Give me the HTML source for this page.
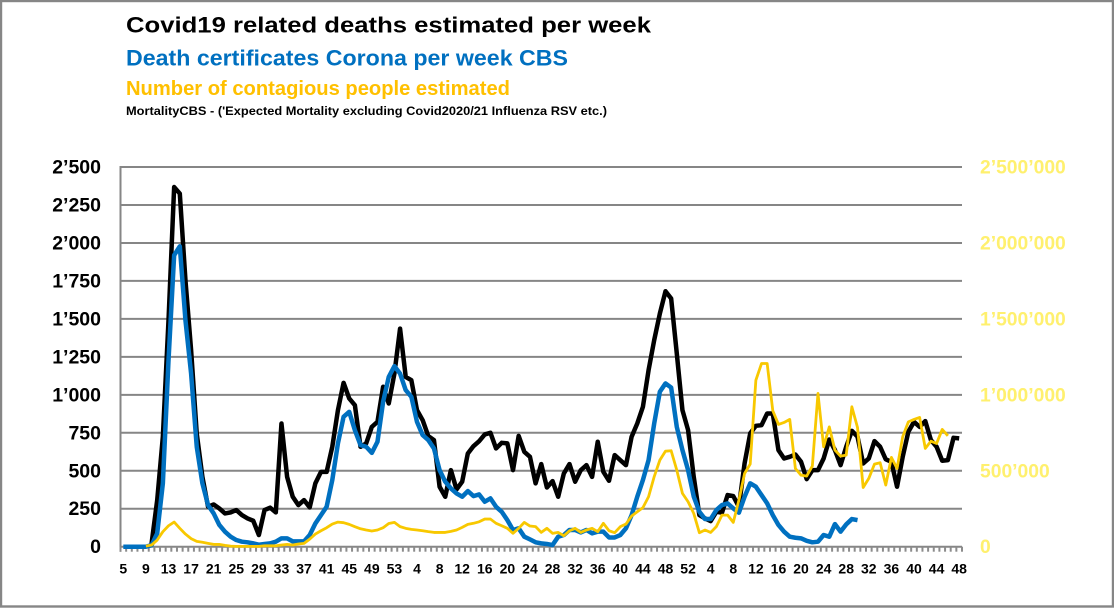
<!DOCTYPE html>
<html lang="en">
<head>
<meta charset="utf-8">
<title>Covid19 related deaths estimated per week</title>
<style>
html,body{margin:0;padding:0;background:#fff;}
#frame{position:relative;width:1114px;height:608px;overflow:hidden;}
svg{display:block;font-family:"Liberation Sans",sans-serif;font-weight:bold;}
</style>
</head>
<body>
<div id="frame">
<svg id="chart" width="1114" height="608" viewBox="0 0 1114 608" xmlns="http://www.w3.org/2000/svg">
  <rect x="1" y="1" width="1112" height="605.5" fill="#fff" stroke="#868686" stroke-width="2.4"/>
  <text x="126" y="32.5" font-size="22" fill="#000" textLength="525" lengthAdjust="spacingAndGlyphs">Covid19 related deaths estimated per week</text>
  <text x="126" y="65.5" font-size="22" fill="#0070C0" textLength="442" lengthAdjust="spacingAndGlyphs">Death certificates Corona per week CBS</text>
  <text x="126" y="95" font-size="20" fill="#FFC000" textLength="384" lengthAdjust="spacingAndGlyphs">Number of contagious people estimated</text>
  <text x="126" y="115" font-size="12" fill="#000" textLength="481" lengthAdjust="spacingAndGlyphs">MortalityCBS - ('Expected Mortality excluding Covid2020/21 Influenza RSV etc.)</text>
  <g id="grid"></g>
  <g id="ticks"></g>
  <g id="labels"></g>
  <g id="series"></g>
</svg>
</div>
<script>
const categories = [5,6,7,8,9,10,11,12,13,14,15,16,17,18,19,20,21,22,23,24,25,26,27,28,29,30,31,32,33,34,35,36,37,38,39,40,41,42,43,44,45,46,47,48,49,50,51,52,53,
1,2,3,4,5,6,7,8,9,10,11,12,13,14,15,16,17,18,19,20,21,22,23,24,25,26,27,28,29,30,31,32,33,34,35,36,37,38,39,40,41,42,43,44,45,46,47,48,49,50,51,52,
1,2,3,4,5,6,7,8,9,10,11,12,13,14,15,16,17,18,19,20,21,22,23,24,25,26,27,28,29,30,31,32,33,34,35,36,37,38,39,40,41,42,43,44,45,46,47,48];

const mortalityValues = [null,null,null,null,null,
20,307,724,1490,2368,2325,1754,1294,745,460,263,278,252,219,226,241,208,186,171,77,241,257,226,811,460,329,274,307,259,417,493,493,658,899,1079,976,932,658,680,789,822,1053,943,1140,1436,
1118,1096,899,833,728,702,395,329,504,377,428,614,662,695,739,750,647,684,680,504,730,625,592,417,544,390,432,329,482,544,428,504,537,460,691,493,434,603,570,537,724,811,921,1162,1360,1535,1682,1634,1272,899,
768,460,208,186,169,230,224,340,333,263,548,746,796,800,877,877,636,581,592,607,559,445,504,504,581,706,636,537,658,763,724,548,581,695,658,575,559,395,592,757,822,789,827,702,658,566,570,717,713];

const certificateValues = [0,0,0,0,0,
10,88,417,1228,1919,1978,1491,1140,658,417,274,219,143,99,66,44,33,29,22,13,18,22,33,55,55,35,35,35,77,153,208,263,439,680,855,888,767,669,658,618,691,954,1118,1189,1140,
1031,987,822,735,702,647,504,428,384,351,329,366,333,344,296,318,263,230,175,110,121,66,48,29,22,18,11,66,77,110,110,94,110,88,99,99,61,61,77,121,208,329,439,570,811,1020,1075,1048,789,636,
504,330,230,182,182,241,274,285,252,224,329,417,395,340,285,208,143,99,66,59,55,39,29,33,77,66,149,99,147,182,175];

const contagiousValues = [null,null,null,null,
4000,11000,44000,99000,138000,162000,121000,83000,53000,35000,29000,22000,15000,15000,9000,4000,2000,2000,2000,2000,2000,6000,6000,6000,11000,15000,11000,18000,22000,50000,83000,105000,125000,149000,162000,158000,147000,132000,118000,110000,103000,110000,125000,153000,160000,132000,
121000,114000,110000,105000,99000,94000,94000,94000,101000,110000,127000,147000,154000,164000,182000,182000,154000,138000,121000,88000,121000,160000,136000,132000,94000,121000,88000,94000,72000,105000,121000,94000,110000,121000,99000,154000,105000,92000,132000,149000,202000,230000,257000,329000,461000,570000,629000,632000,504000,351000,
296000,219000,92000,110000,94000,132000,208000,208000,160000,307000,482000,544000,1096000,1206000,1206000,895000,805000,818000,838000,515000,471000,465000,531000,1009000,658000,789000,636000,596000,603000,921000,785000,390000,450000,544000,553000,406000,588000,515000,724000,822000,838000,851000,647000,695000,680000,772000,730000];

const leftTickValues = [0,250,500,750,1000,1250,1500,1750,2000,2250,2500];
const leftTickLabels = ["0","250","500","750","1’000","1’250","1’500","1’750","2’000","2’250","2’500"];
const rightTickValues = [0,500000,1000000,1500000,2000000,2500000];
const rightTickLabels = ["0","500’000","1’000’000","1’500’000","2’000’000","2’500’000"];
const labelEvery = 4;

const plotLeft = 120.5, plotRight = 962, plotTop = 167, plotBottom = 546.7;
const leftMax = 2500, rightMax = 2500000;
const NS = "http://www.w3.org/2000/svg";

function xScale(i){ return plotLeft + (plotRight - plotLeft) * (i + 0.5) / categories.length; }
function xEdge(i){ return plotLeft + (plotRight - plotLeft) * i / categories.length; }
function yLeft(v){ return plotBottom - (plotBottom - plotTop) * v / leftMax; }
function yRight(v){ return plotBottom - (plotBottom - plotTop) * v / rightMax; }
function make(tag, attrs){
  const el = document.createElementNS(NS, tag);
  for (const k in attrs) el.setAttribute(k, attrs[k]);
  return el;
}

const grid = document.getElementById('grid');
leftTickValues.forEach(function(v){
  const line = make('line', {x1: plotLeft, x2: plotRight, y1: yLeft(v), y2: yLeft(v), stroke: '#868686', 'stroke-width': 2});
  
  
  grid.appendChild(line);
});
const yAxis = make('line', {x1: plotLeft, x2: plotLeft, y1: plotTop - 1, y2: plotBottom + 5, stroke: '#868686', 'stroke-width': 2});


grid.appendChild(yAxis);

const ticks = document.getElementById('ticks');
for (let i = 0; i <= categories.length; i++) {
  const t = make('line', {x1: xEdge(i), x2: xEdge(i), y1: plotBottom, y2: plotBottom + 5, stroke: '#8c8c8c', 'stroke-width': 2});
  
  
  ticks.appendChild(t);
}

const labels = document.getElementById('labels');
leftTickValues.forEach(function(v, i){
  const t = make('text', {x: 101, y: yLeft(v) + 6.5, 'text-anchor': 'end', 'font-size': 19.5, fill: '#000'});
  t.textContent = leftTickLabels[i];
  
  
  labels.appendChild(t);
});
rightTickValues.forEach(function(v, i){
  const t = make('text', {x: 980, y: yRight(v) + 6.5, 'font-size': 19.3, fill: '#FFF06E'});
  t.textContent = rightTickLabels[i];
  
  
  labels.appendChild(t);
});
categories.forEach(function(c, i){
  if (i % labelEvery !== 0) return;
  const t = make('text', {x: xScale(i), y: 573.5, 'text-anchor': 'middle', 'font-size': 14, fill: '#000'});
  t.textContent = c;
  
  
  labels.appendChild(t);
});

function pathFor(values, yFn){
  const pts = [];
  values.forEach(function(v, i){
    if (v !== null) pts.push(xScale(i).toFixed(2) + ',' + yFn(v).toFixed(2));
  });
  return pts.join(' ');
}
const seriesGroup = document.getElementById('series');
const blackLine = make('polyline', {points: pathFor(mortalityValues, yLeft), fill: 'none', stroke: '#000', 'stroke-width': 4.5, 'stroke-linejoin': 'round'});


seriesGroup.appendChild(blackLine);
const blueLine = make('polyline', {points: pathFor(certificateValues, yLeft), fill: 'none', stroke: '#0070C0', 'stroke-width': 4.5, 'stroke-linejoin': 'round'});


seriesGroup.appendChild(blueLine);
const yellowLine = make('polyline', {points: pathFor(contagiousValues, yRight), fill: 'none', stroke: '#F8C800', 'stroke-width': 2.8, 'stroke-linejoin': 'round'});


seriesGroup.appendChild(yellowLine);
</script>
</body>
</html>
